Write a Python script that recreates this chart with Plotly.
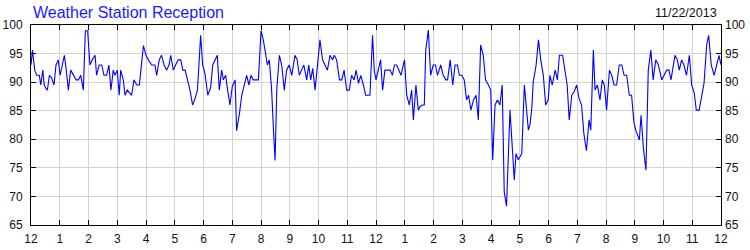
import plotly.graph_objects as go

# ---- data (hour of day, signal %) ----
hours = [
    0.0, 0.05, 0.13, 0.2, 0.29, 0.34, 0.41, 0.46, 0.52, 0.57, 0.64, 0.72, 0.8, 0.87, 0.95,
    1.01, 1.09, 1.16, 1.22, 1.3, 1.38, 1.47, 1.57, 1.65, 1.73, 1.82, 1.89, 1.97,
    2.05, 2.13, 2.23, 2.28, 2.37, 2.46, 2.54, 2.63, 2.71, 2.78, 2.86, 2.92,
    3.0, 3.07, 3.12, 3.21, 3.27, 3.35, 3.42, 3.5, 3.58, 3.68, 3.77, 3.84, 3.91,
    4.0, 4.08, 4.2, 4.31, 4.37, 4.46, 4.54, 4.63, 4.72, 4.8, 4.86, 4.95,
    5.03, 5.12, 5.21, 5.28, 5.36, 5.44, 5.53, 5.62, 5.69, 5.79, 5.90, 5.97,
    6.05, 6.15, 6.25, 6.32, 6.40, 6.48, 6.55, 6.63, 6.69, 6.77, 6.84, 6.92,
    7.0, 7.10, 7.15, 7.25, 7.33, 7.42, 7.50, 7.58, 7.65, 7.73, 7.83, 7.91,
    8.0, 8.06, 8.14, 8.22, 8.29, 8.37, 8.43, 8.49, 8.55, 8.64, 8.72, 8.81, 8.89, 8.98,
    9.07, 9.18, 9.26, 9.33, 9.41, 9.49, 9.59, 9.66, 9.73, 9.80, 9.88, 9.96,
    10.05, 10.14, 10.23, 10.31, 10.4, 10.49, 10.55, 10.63, 10.73, 10.81, 10.89, 10.98,
    11.07, 11.15, 11.24, 11.31, 11.39, 11.47, 11.56, 11.64, 11.71, 11.79, 11.88, 11.94,
    12.0, 12.08, 12.16, 12.23, 12.31, 12.39, 12.49, 12.57, 12.64, 12.72, 12.80, 12.87, 12.99,
    13.07, 13.16, 13.24, 13.30, 13.39, 13.47, 13.53, 13.61, 13.68, 13.73, 13.82, 13.90, 13.99,
    14.07, 14.14, 14.25, 14.34, 14.43, 14.49, 14.58, 14.67, 14.75, 14.83, 14.90, 14.98,
    15.07, 15.15, 15.22, 15.30, 15.39, 15.48, 15.56, 15.64, 15.73, 15.81, 15.91, 15.99,
    16.06, 16.14, 16.23, 16.31, 16.39, 16.46, 16.54, 16.66, 16.81, 16.87, 16.95,
    17.01, 17.07, 17.16, 17.30, 17.36, 17.42, 17.47, 17.57, 17.65, 17.73, 17.82, 17.90, 17.99,
    18.05, 18.13, 18.23, 18.31, 18.38, 18.49, 18.57, 18.65, 18.72, 18.81, 18.89, 18.98,
    19.06, 19.15, 19.23, 19.32, 19.41, 19.47, 19.56, 19.62, 19.70, 19.79, 19.87, 19.94,
    20.02, 20.12, 20.20, 20.28, 20.37, 20.46, 20.55, 20.63, 20.72, 20.81, 20.89, 20.97,
    21.04, 21.16, 21.22, 21.30, 21.39, 21.47, 21.56, 21.64, 21.73, 21.82, 21.94,
    22.02, 22.11, 22.19, 22.26, 22.40, 22.48, 22.55, 22.63, 22.71, 22.80, 22.90, 22.98,
    23.07, 23.14, 23.24, 23.33, 23.41, 23.50, 23.57, 23.66, 23.76, 23.85, 23.93, 24.0,
]
signal = [
    93.0, 95.6, 92.1, 91.2, 91.2, 89.5, 92.1, 89.5, 88.9, 88.6, 91.2, 90.7, 89.5, 93.0, 93.9,
    91.2, 93.0, 94.7, 92.4, 88.6, 92.1, 91.2, 90.4, 90.4, 91.2, 88.6, 99.0, 99.0,
    93.0, 93.9, 94.7, 91.2, 93.0, 93.0, 91.2, 91.2, 93.0, 88.6, 92.1, 91.2,
    92.1, 87.7, 92.1, 90.4, 87.7, 88.6, 88.1, 87.7, 90.4, 89.5, 89.5, 92.5, 96.4,
    94.7, 93.9, 93.0, 93.0, 91.2, 93.9, 94.7, 93.0, 92.1, 93.0, 94.7, 92.1,
    93.0, 93.9, 93.9, 92.1, 92.1, 90.4, 88.6, 86.0, 86.9, 88.6, 98.2, 93.0,
    91.5, 87.7, 89.1, 93.0, 93.9, 94.7, 88.6, 92.1, 90.4, 91.2, 88.6, 86.0,
    89.2, 90.4, 81.5, 84.5, 87.7, 89.8, 91.2, 89.5, 91.2, 90.4, 90.4, 90.4,
    99.0, 97.9, 95.6, 93.0, 93.9, 88.6, 82.0, 76.3, 88.9, 94.7, 93.0, 88.6, 92.1, 93.0,
    91.2, 94.7, 93.9, 91.2, 92.1, 93.0, 90.4, 93.0, 90.4, 92.4, 88.6, 93.0,
    97.4, 93.9, 93.0, 92.1, 94.7, 93.9, 94.7, 93.9, 90.4, 90.4, 92.1, 88.6,
    88.6, 91.2, 90.4, 92.1, 89.8, 91.2, 89.5, 87.7, 87.7, 87.7, 98.2, 92.0,
    90.4, 92.1, 93.9, 88.6, 92.1, 92.1, 92.1, 91.2, 93.0, 93.0, 92.1, 91.2, 93.9,
    87.7, 86.0, 88.6, 83.4, 89.5, 85.1, 85.7, 86.0, 86.0, 95.6, 99.1, 91.2, 93.0,
    93.0, 91.2, 93.0, 91.2, 90.4, 90.4, 93.9, 89.5, 93.0, 93.0, 91.2, 91.2,
    90.4, 86.9, 87.7, 85.1, 86.9, 87.7, 83.4, 96.5, 94.7, 90.4, 89.5, 88.6,
    76.4, 86.0, 86.9, 86.0, 89.5, 70.8, 68.3, 85.1, 72.9, 77.5, 76.4,
    77.0, 77.5, 89.5, 81.6, 82.7, 85.5, 90.1, 93.0, 97.4, 93.9, 91.2, 86.0, 86.9,
    91.2, 89.5, 92.1, 90.4, 94.7, 94.7, 92.1, 89.5, 83.4, 87.7, 88.3, 89.5,
    87.2, 86.0, 81.0, 78.0, 83.4, 81.6, 95.6, 88.6, 89.5, 86.9, 90.4, 89.5,
    85.1, 92.1, 91.2, 89.5, 89.5, 93.0, 93.0, 91.2, 91.2, 87.7, 87.7, 83.0,
    81.5, 79.9, 84.2, 78.5, 74.6, 92.1, 95.6, 90.4, 93.9, 93.0, 90.4,
    91.2, 92.1, 92.1, 90.4, 94.7, 93.9, 92.1, 93.9, 93.0, 91.2, 94.7, 89.5,
    88.1, 85.1, 85.1, 87.4, 89.8, 96.5, 98.2, 93.0, 91.2, 93.0, 94.7, 93.0,
]
tick_hours = list(range(25))
tick_labels = ["12"] + [str(h) for h in range(1, 12)] + ["12"] + [str(h) for h in range(1, 12)] + ["12"]
y_ticks = [65, 70, 75, 80, 85, 90, 95, 100]
title_text = "Weather Station Reception"
date_text = "11/22/2013"

FONT = "Liberation Sans, Arial, sans-serif"

fig = go.Figure()
fig.add_trace(go.Scatter(
    x=hours, y=signal, mode="lines",
    line=dict(color="#0000ff", width=1.1),
    hoverinfo="skip", showlegend=False,
))
# invisible trace to activate the right-hand axis labels
fig.add_trace(go.Scatter(
    x=hours[:1], y=signal[:1], yaxis="y2", mode="lines",
    line=dict(color="rgba(0,0,0,0)"), hoverinfo="skip", showlegend=False,
))

axis_common = dict(
    showgrid=True, gridcolor="#d3d3d3", gridwidth=1,
    showline=True, linecolor="black", linewidth=1, mirror="ticks",
    ticks="inside", ticklen=5, tickcolor="black", tickwidth=1,
    zeroline=False, fixedrange=True, automargin=False,
    tickfont=dict(family=FONT, size=12, color="#111111"),
)

fig.update_layout(
    width=750, height=250,
    margin=dict(l=31, r=29, t=25, b=25, pad=0),
    paper_bgcolor="white", plot_bgcolor="white",
    font=dict(family=FONT, size=12, color="#111111"),
    xaxis=dict(range=[0, 24], tickmode="array", tickvals=tick_hours, ticktext=tick_labels,
               ticklabelstandoff=3, **axis_common),
    yaxis=dict(range=[65, 100], tickmode="array", tickvals=y_ticks,
               ticklabelstandoff=5, **axis_common),
    yaxis2=dict(range=[65, 100], tickmode="array", tickvals=y_ticks, overlaying="y", side="right",
                showgrid=False, showline=False, ticks="", zeroline=False, fixedrange=True,
                automargin=False, ticklabelstandoff=3,
                tickfont=dict(family=FONT, size=12, color="#111111")),
    annotations=[
        dict(text=title_text, xref="paper", yref="paper", x=0.0, y=1.0625,
             xanchor="left", yanchor="middle", showarrow=False,
             font=dict(family=FONT, size=16, color="#1a1aff")),
        dict(text=date_text, xref="paper", yref="paper", x=0.997, y=1.06,
             xanchor="right", yanchor="middle", showarrow=False,
             font=dict(family=FONT, size=12.5, color="#111111")),
    ],
)

fig.write_html("out.html")
